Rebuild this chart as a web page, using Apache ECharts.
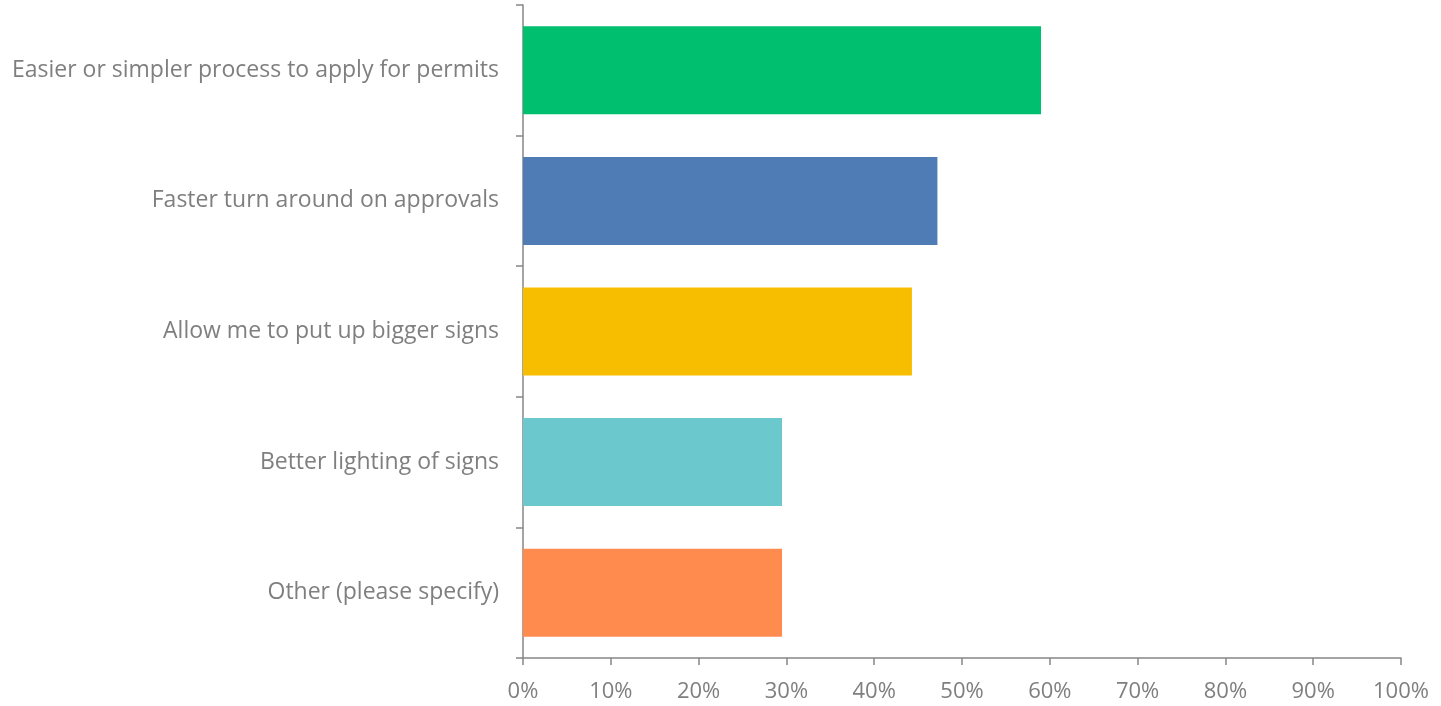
<!DOCTYPE html>
<html><head><meta charset="utf-8">
<script src="https://cdn.jsdelivr.net/npm/echarts@6/dist/echarts.min.js"></script>
<style>html,body{margin:0;padding:0;background:#fff}#c{width:1441px;height:706px}</style>
</head><body><div id="c"></div>
<script>
const categories = ["Easier or simpler process to apply for permits","Faster turn around on approvals","Allow me to put up bigger signs","Better lighting of signs","Other (please specify)"];
const values = [59.0, 47.2, 44.3, 29.5, 29.5];
const colors = ["#00BF6F","#507CB6","#F7BE00","#6BC8CD","#FF8B4F"];
const xTicks = [0,10,20,30,40,50,60,70,80,90,100];

const chart = echarts.init(document.getElementById('c'));
const axisColor = '#868686';
chart.setOption({
  animation:false,
  grid:{left:523,right:40,top:5,bottom:48,containLabel:false},
  xAxis:{type:'value',min:xTicks[0],max:xTicks[xTicks.length-1],interval:10,
    axisLine:{show:true,lineStyle:{color:axisColor,width:1.5}},
    axisTick:{show:true,length:7,lineStyle:{color:axisColor,width:1.5}},
    splitLine:{show:false},
    axisLabel:{formatter:v=>v+'%',color:'#7f7f7f',fontSize:22,fontFamily:'Open Sans',margin:23}},
  yAxis:{type:'category',data:categories,inverse:true,
    axisLine:{show:true,lineStyle:{color:axisColor,width:1.5}},
    axisTick:{show:true,length:7,lineStyle:{color:axisColor,width:1.5}},
    axisLabel:{color:'#7f7f7f',fontSize:23,fontFamily:'Open Sans',margin:24}},
  series:[{type:'bar',barWidth:88,
    data:values.map((v,i)=>({value:v,itemStyle:{color:colors[i]}}))}]
});
</script></body></html>
